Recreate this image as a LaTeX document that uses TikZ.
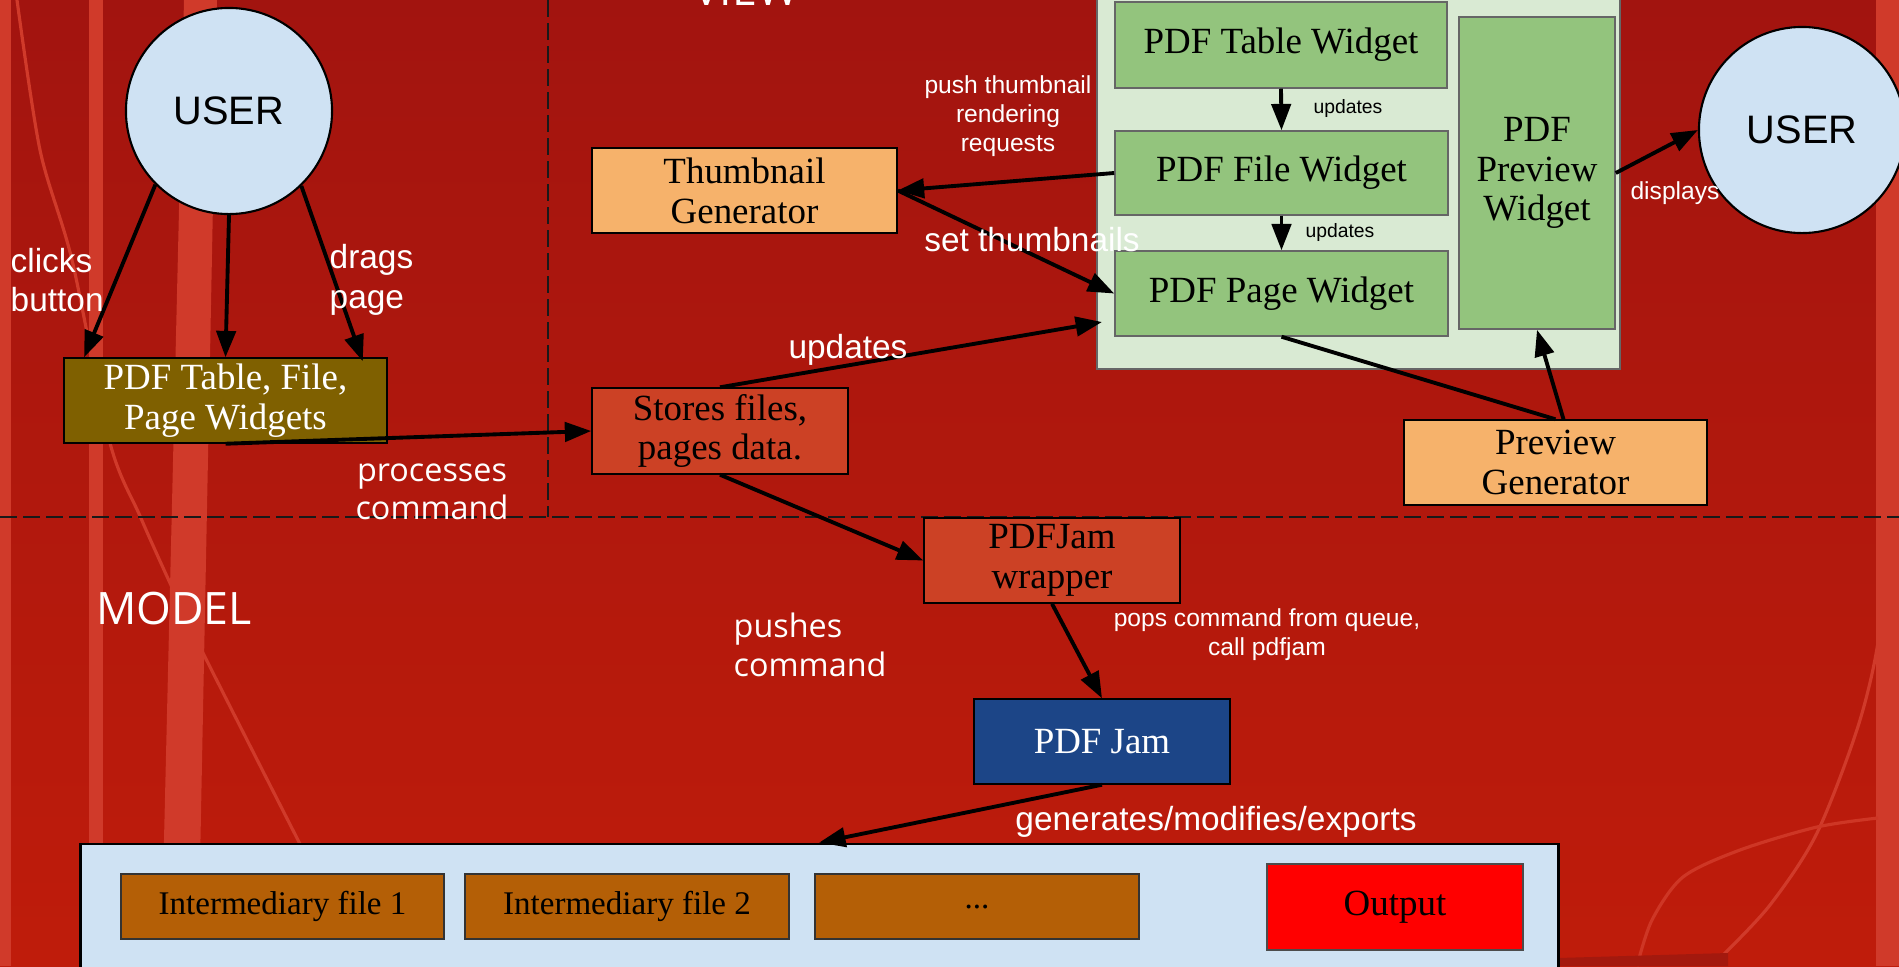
\documentclass[tikz,border=0pt]{standalone}
\usepackage{fontspec}
\usetikzlibrary{arrows.meta,calc}
\newfontfamily\serf{Liberation Serif}
\newfontfamily\arial{Liberation Sans}
\newfontfamily\osans{Open Sans}
\definecolor{bgtop}{HTML}{A2140F}
\definecolor{bgbot}{HTML}{BF1C0B}
\definecolor{stripe}{HTML}{D03A2A}
\definecolor{darkpatch}{HTML}{A3190E}
\definecolor{userblue}{HTML}{CFE2F3}
\definecolor{greenbg}{HTML}{D9EAD3}
\definecolor{greenbox}{HTML}{93C47D}
\definecolor{peach}{HTML}{F6B26B}
\definecolor{brick}{HTML}{CC4125}
\definecolor{olive}{HTML}{7F6000}
\definecolor{navy}{HTML}{1C4587}
\definecolor{rust}{HTML}{B45F06}
\definecolor{pureRed}{HTML}{FF0000}
\begin{document}
\begin{tikzpicture}[x=0.01cm,y=-0.01cm,
  box/.style={draw=black, line width=0.4pt, inner sep=0pt, align=center,
    font={\serf\fontsize{10.5}{11.3}\selectfont}},
  gbox/.style={box, fill=greenbox, draw=black!60},
  ibox/.style={box, fill=rust, draw=black!80, minimum width=3.23cm, minimum height=0.65cm,
    font={\serf\fontsize{9.4}{11}\selectfont}},
  usr/.style={circle, minimum size=2.06cm, fill=userblue, draw=black, line width=0.6pt,
    inner sep=0pt, font={\arial\fontsize{11.3}{13}\selectfont}},
  arr/.style={line width=1.1pt, -{Triangle[length=7.5pt,width=5.5pt]}},
  plainln/.style={line width=1.1pt},
  dashln/.style={line width=0.7pt, black!90, dash pattern=on 0.17cm off 0.06cm},
  lbl/.style={text=white, inner sep=0pt, align=center, font={\arial\fontsize{9.5}{11.2}\selectfont}},
  olbl/.style={text=white, inner sep=0pt, align=center, font={\osans\fontsize{9.2}{10.9}\selectfont}},
  slbl/.style={text=white, inner sep=0pt, align=center, font={\arial\fontsize{7}{8.2}\selectfont}},
  title/.style={text=white, inner sep=0pt, font={\osans\fontsize{12.7}{14}\selectfont}},
]
\useasboundingbox (0,0) rectangle (1899,966);
\clip (0,0) rectangle (1899,966);
% background
\shade[top color=bgtop, bottom color=bgbot] (0,0) rectangle (1899,966);
\fill[stripe] (0,0) rectangle (11,966);
\fill[stripe] (89,0) rectangle (103,966);
\fill[stripe] (184,0) -- (217,0) -- (198,966) -- (161,966) -- cycle;
\fill[stripe] (1876,0) rectangle (1899,966);
\draw[stripe, line width=0.9pt] plot[smooth] coordinates {(17,0) (40,150) (72,260) (110,443) (140,516) (170,583) (200,647) (300,844)};
\draw[stripe, line width=0.9pt] plot[smooth] coordinates {(1887,470) (1881,620) (1860,720) (1817,833) (1770,905) (1723,955)};
\draw[stripe!85!bgbot, line width=0.9pt] plot[smooth] coordinates {(1878,818) (1817,827) (1740,850) (1683,877) (1652,920) (1637,966)};
\fill[darkpatch] (1558,958) -- (1728,953) -- (1728,966) -- (1558,966) -- cycle;
% dividers
\draw[dashln] (548,0) -- (548,517);
\draw[dashln] (0,517) -- (1899,517);
% section titles
\node[title, anchor=base] (view) at (746,5) {VIEW};
\node[title] (model) at (174,609) {MODEL};
% nodes
\node[usr] (userL) at (229,111) {USER};
\node[usr] (userR) at (1802,130) {USER};
\node[box, fill=olive, text=white, minimum width=3.23cm, minimum height=0.85cm] (ptf) at (225.5,400.5) {PDF Table, File,\\Page Widgets};
\node[box, fill=peach, minimum width=3.05cm, minimum height=0.85cm] (thumb) at (744.5,190.5) {Thumbnail\\Generator};
\node[box, fill=brick, minimum width=2.56cm, minimum height=0.86cm] (stores) at (720,431) {Stores files,\\pages data.};
\node[draw=black!60, line width=0.4pt, fill=greenbg, minimum width=5.23cm, minimum height=3.74cm, inner sep=0pt] (gcont) at (1358.5,182) {};
\node[gbox, minimum width=3.32cm, minimum height=0.86cm] (tablew) at (1281,45) {PDF Table Widget};
\node[gbox, minimum width=3.33cm, minimum height=0.84cm] (filew) at (1281.5,173) {PDF File Widget};
\node[gbox, minimum width=3.33cm, minimum height=0.85cm] (pagew) at (1281.5,293.5) {PDF Page Widget};
\node[gbox, minimum width=1.56cm, minimum height=3.12cm] (prevw) at (1537,173) {PDF\\Preview\\Widget};
\node[box, fill=peach, minimum width=3.03cm, minimum height=0.85cm] (pgen) at (1555.5,462.5) {Preview\\Generator};
\node[box, fill=brick, minimum width=2.56cm, minimum height=0.85cm] (wrapper) at (1052,560.5) {PDFJam\\wrapper};
\node[box, fill=navy, text=white, minimum width=2.56cm, minimum height=0.85cm] (pdfjam) at (1102,741.5) {PDF Jam};
\node[draw=black, line width=0.8pt, fill=userblue, minimum width=14.77cm, minimum height=1.36cm, inner sep=0pt] (bcont) at (819.5,912) {};
\node[ibox] (int1) at (282.5,906.5) {Intermediary file 1};
\node[ibox, minimum width=3.24cm] (int2) at (627,906.5) {Intermediary file 2};
\node[ibox, minimum width=3.24cm] (dots) at (977,906.5) {...};
\node[box, fill=pureRed, draw=black!70, minimum width=2.56cm, minimum height=0.86cm] (output) at (1395,907) {Output};
% connectors
\draw[arr] (userL.225) -- (ptf.163.7);
\draw[arr] (userL.south) -- (ptf.north);
\draw[arr] (userL.314) -- ($(ptf.north east)+(-25,4)$);
\draw[arr] (ptf.south) -- (stores.west);
\coordinate (updtip) at (1102,322);
\draw[arr] (stores.north) -- (updtip);
\draw[arr] (filew.west) -- (thumb.east);
\draw[arr] (thumb.east) -- (pagew.west);
\draw[arr] (tablew.south) -- (filew.north);
\draw[arr] (filew.south) -- (pagew.north);
\draw[plainln] (pagew.south) -- (pgen.north);
\draw[arr] ($(pgen.north)+(8,0)$) -- (prevw.south);
\draw[arr] (prevw.east) -- (userR.west);
\draw[arr] (stores.south) -- (wrapper.west);
\draw[arr] (wrapper.south) -- (pdfjam.north);
\draw[arr] (pdfjam.south) -- ($(bcont.north west)+(740,0)$);
% labels
\node[lbl, anchor=west, align=left] (lclick) at (10,280) {clicks\\button};
\node[lbl, anchor=west, align=left] (ldrag) at (329,280) {drags\\page};
\node[olbl] (lproc) at (432,492) {processes\\command};
\node[lbl] (lupd) at (848,350) {updates};
\node[lbl] (lset) at (1032,240) {set thumbnails};
\node[slbl] (lpush) at (1008,116) {push thumbnail\\rendering\\requests};
\node[text=black, inner sep=0pt, font={\arial\fontsize{5.5}{6.5}\selectfont}] (lu1) at (1348,108) {updates};
\node[text=black, inner sep=0pt, font={\arial\fontsize{5.5}{6.5}\selectfont}] (lu2) at (1340,232) {updates};
\node[slbl] (ldisp) at (1675,193) {displays};
\node[olbl, anchor=west, align=left] (lpushes) at (733,645) {pushes\\command};
\node[slbl] (lpops) at (1267,635) {pops command from queue,\\call pdfjam};
\node[lbl] (lgen) at (1216,822) {generates/modifies/exports};
\end{tikzpicture}
\end{document}
